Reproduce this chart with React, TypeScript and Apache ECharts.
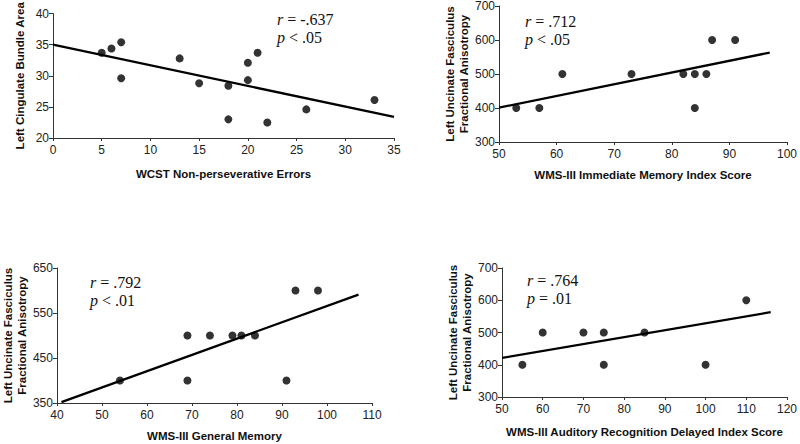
import React, { useEffect, useRef } from "react";
import * as echarts from "echarts";

// Panel 1: WCST vs Left Cingulate Bundle Area
const p1X = [5, 6, 7, 7, 13, 15, 18, 18, 20, 20, 21, 22, 26, 33];
const p1Y = [33.7, 34.4, 35.4, 29.6, 32.8, 28.8, 28.4, 23.0, 32.1, 29.3, 33.7, 22.5, 24.6, 26.1];
const p1Fit = [[0, 35.0], [35, 23.4]];

// Panel 2: Immediate Memory
const p2X = [53, 57, 61, 73, 82, 84, 84, 86, 87, 91];
const p2Y = [400, 400, 500, 500, 500, 500, 400, 500, 600, 600];
const p2Fit = [[50, 401], [97, 563]];

// Panel 3: General Memory
const p3X = [54, 69, 69, 74, 79, 81, 84, 91, 93, 98];
const p3Y = [400, 500, 400, 500, 500, 500, 500, 400, 600, 600];
const p3Fit = [[41, 352], [107, 591]];

// Panel 4: Auditory Recognition Delayed
const p4X = [55, 60, 70, 75, 75, 85, 100, 110];
const p4Y = [400, 500, 500, 500, 400, 500, 400, 600];
const p4Fit = [[50, 421], [116, 563]];

const p3YTicks = [350, 450, 550, 650];

const annotations = [
  { r: " = -.637", p: " < .05" },
  { r: " = .712", p: " < .05" },
  { r: " = .792", p: " < .01" },
  { r: " = .764", p: " = .01" },
];

const zip = (xs: number[], ys: number[]) => xs.map((x, i) => [x, ys[i]]);

export default function App() {
  const ref = useRef<HTMLDivElement>(null);
  useEffect(() => {
    if (!ref.current) return;
    const chart = echarts.init(ref.current, null, { renderer: "svg" });
    const sans = "Liberation Sans, Arial, sans-serif";
    const serif = "Liberation Serif, Times New Roman, serif";
    const axisColor = "#333";
    const labelStyle = { color: "#222", fontFamily: sans, fontSize: 12 };
    const nameStyle = { color: "#111", fontFamily: sans, fontSize: 11.5, fontWeight: "bold" as const, lineHeight: 14 };

    const grids = [
      { left: 53, top: 5, width: 341, height: 133 },
      { left: 499, top: 5, width: 292, height: 137 },
      { left: 54, top: 268, width: 318, height: 136 },
      { left: 502, top: 268, width: 285, height: 129 },
    ];

    const xCfg = [
      { min: 0, max: 35, interval: 5, name: "WCST Non-perseverative Errors", gap: 29 },
      { min: 50, max: 100, interval: 10, name: "WMS-III Immediate Memory Index Score", gap: 26 },
      { min: 40, max: 110, interval: 10, name: "WMS-III General Memory", gap: 26 },
      { min: 50, max: 120, interval: 10, name: "WMS-III Auditory Recognition Delayed Index Score", gap: 28 },
    ];
    const yCfg: any[] = [
      { min: 20, max: 40, interval: 5, name: "Left Cingulate Bundle Area", gap: 26 },
      { min: 300, max: 700, interval: 100, name: "Left Uncinate Fasciculus\nFractional Anisotropy", gap: 27 },
      { min: 350, max: 650, interval: 50, name: "Left Uncinate Fasciculus\nFractional Anisotropy", gap: 27, custom: p3YTicks },
      { min: 300, max: 700, interval: 100, name: "Left Uncinate Fasciculus\nFractional Anisotropy", gap: 27 },
    ];

    const xAxis = xCfg.map((c, i) => ({
      type: "value",
      gridIndex: i,
      min: c.min,
      max: c.max,
      interval: c.interval,
      name: c.name,
      nameLocation: "middle",
      nameGap: c.gap,
      nameTextStyle: nameStyle,
      splitLine: { show: false },
      axisLine: { show: true, onZero: false, lineStyle: { color: axisColor, width: 1 } },
      axisTick: { show: true, length: 3, lineStyle: { color: axisColor } },
      axisLabel: { ...labelStyle, margin: 6 },
    }));

    const yAxis = yCfg.map((c, i) => ({
      type: "value",
      gridIndex: i,
      min: c.min,
      max: c.max,
      interval: c.interval,
      name: c.name,
      nameLocation: "middle",
      nameGap: c.gap,
      nameTextStyle: nameStyle,
      splitLine: { show: false },
      axisLine: { show: true, onZero: false, lineStyle: { color: axisColor, width: 1 } },
      axisTick: c.custom
        ? { show: true, length: 4, customValues: c.custom, lineStyle: { color: axisColor } }
        : { show: true, length: 4, lineStyle: { color: axisColor } },
      axisLabel: c.custom
        ? { ...labelStyle, margin: 4, customValues: c.custom }
        : { ...labelStyle, margin: 4 },
    }));

    const pts = [zip(p1X, p1Y), zip(p2X, p2Y), zip(p3X, p3Y), zip(p4X, p4Y)];
    const fits = [p1Fit, p2Fit, p3Fit, p4Fit];

    const series: any[] = [];
    pts.forEach((d, i) => {
      series.push({
        type: "scatter",
        xAxisIndex: i,
        yAxisIndex: i,
        data: d,
        symbol: "circle",
        symbolSize: 8,
        itemStyle: { color: "#000" },
        z: 3,
      });
      series.push({
        type: "line",
        xAxisIndex: i,
        yAxisIndex: i,
        data: fits[i],
        showSymbol: false,
        symbol: "none",
        lineStyle: { color: "#000", width: 2.3 },
        z: 2,
      });
    });

    const annPos = [
      { x: 277, y: 19 },
      { x: 525, y: 21 },
      { x: 90, y: 282 },
      { x: 527, y: 280 },
    ];
    const graphic: any[] = [];
    annotations.forEach((a, i) => {
      const base = { fontFamily: serif, fontSize: 16, fill: "#111" };
      graphic.push({
        type: "text",
        x: annPos[i].x,
        y: annPos[i].y,
        style: {
          ...base,
          text: "{i|r}" + a.r,
          verticalAlign: "middle",
          rich: { i: { fontStyle: "italic", fontFamily: serif, fontSize: 16, fill: "#111" } },
        },
      });
      graphic.push({
        type: "text",
        x: annPos[i].x,
        y: annPos[i].y + 18,
        style: {
          ...base,
          text: "{i|p}" + a.p,
          verticalAlign: "middle",
          rich: { i: { fontStyle: "italic", fontFamily: serif, fontSize: 16, fill: "#111" } },
        },
      });
    });

    chart.setOption({
      animation: false,
      backgroundColor: "#fff",
      grid: grids,
      xAxis,
      yAxis,
      series,
      graphic,
    });
    return () => chart.dispose();
  }, []);
  return (
    <div
      ref={ref}
      style={{ position: "fixed", left: 0, top: 0, width: 800, height: 444 }}
    />
  );
}
